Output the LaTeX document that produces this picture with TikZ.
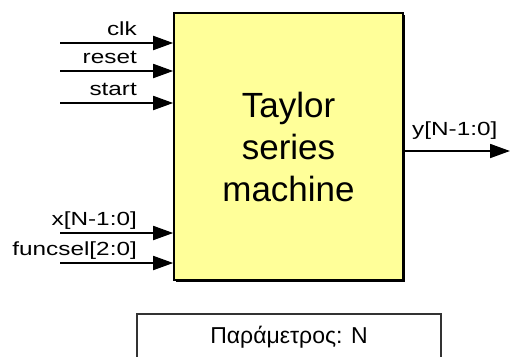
\documentclass[tikz,border=0pt]{standalone}
\usepackage{fontspec}
\setmainfont{Liberation Sans}
\newfontfamily\portfont{Liberation Sans}[FakeStretch=1.28]
\usetikzlibrary{arrows.meta,shadows}

\definecolor{blockyellow}{RGB}{255,255,153}

\tikzset{
  port/.style={draw, line width=1.8pt, -{Triangle[length=20pt,width=14pt]}},
  portlabel/.style={font=\portfont\fontsize{19}{19}\selectfont, inner sep=0pt},
  block/.style={draw, line width=1.6pt, fill=blockyellow, minimum width=229pt,
    minimum height=267pt, align=center, font=\fontsize{35}{42}\selectfont,
    drop shadow={shadow xshift=2pt, shadow yshift=-2pt, opacity=1, fill=black}},
  parambox/.style={draw=black!80, line width=1.5pt, fill=white, minimum width=304pt,
    text height=17pt, text depth=30pt, inner ysep=13pt, font=\fontsize{23}{23}\selectfont}
}

\begin{document}
\begin{tikzpicture}[x=1pt, y=-1pt]
    \useasboundingbox (0,0) rectangle (510,356);
    \clip (0,0) rectangle (510,356);

    \node[block] (tsm) at (288.5,146.5) {Taylor\\series\\machine};

    % inputs
    \foreach \name/\y/\txt in {clk/43/clk, reset/71/reset, start/103/start,
                               x/233/x[N-1:0], funcsel/263/funcsel[2:0]} {
        \coordinate (\name-in) at (60,\y);
        \draw[port] (\name-in) -- (\name-in -| tsm.west);
        \node[portlabel, anchor=base east] (\name-label) at (137,\y-8) {\txt};
    }

    % output
    \coordinate (y-out) at (510,151);
    \draw[port] (y-out -| tsm.east) -- (y-out);
    \node[portlabel, anchor=base west] (y-label) at (412,135) {y[N-1:0]};

    \node[parambox, anchor=north] (param) at (289,313) {Παράμετρος: N};
\end{tikzpicture}
\end{document}
